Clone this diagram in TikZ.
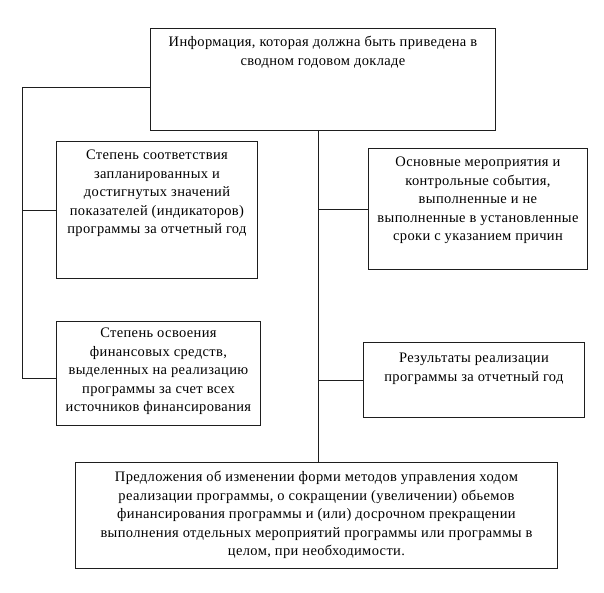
\documentclass[tikz,border=0pt]{standalone}
\usepackage{fontspec}
\setmainfont{Liberation Serif}[LetterSpace=2.5]
\usetikzlibrary{positioning,calc}
\definecolor{RepLine}{HTML}{1E1E1E}
% text block pinned to the top of its frame
\newcommand{\cell}[4][18.5pt]{\parbox[c][#3][t]{#2}{\centering\rule{0pt}{#1}#4\par}}

\begin{document}
\begin{tikzpicture}[x=1pt,y=-1pt]
  \tikzset{infobox/.style={draw=RepLine, line width=0.9pt, inner sep=0pt, anchor=north west, font=\fontsize{14.5}{18.5}\selectfont},
           link/.style={draw=RepLine, line width=0.9pt}}
  \useasboundingbox (0,0) rectangle (604,592);
  \node[infobox] (info) at (150,28) {\cell{345pt}{102pt}{Информация, которая должна быть приведена в\\сводном годовом докладе}};
  \node[infobox] (left1) at (56,141) {\cell{201pt}{137pt}{Степень соответствия\\запланированных и\\достигнутых значений\\показателей (индикаторов)\\программы за отчетный год}};
  \node[infobox] (left2) at (56,321) {\cell[16.5pt]{204pt}{104pt}{Степень освоения\\финансовых средств,\\выделенных на реализацию\\программы за счет всех\\источников финансирования}};
  \node[infobox] (right1) at (368,148) {\cell{219pt}{121pt}{Основные мероприятия и\\контрольные события,\\выполненные и не\\выполненные в установленные\\сроки с указанием причин}};
  \node[infobox] (right2) at (363,342) {\cell[20.5pt]{221pt}{75pt}{Результаты реализации\\программы за отчетный год}};
  \node[infobox] (offer) at (75,462) {\cell[19.5pt]{482pt}{106pt}{Предложения об изменении форми методов управления ходом\\реализации программы, о сокращении (увеличении) обьемов\\финансирования программы и (или) досрочном прекращении\\выполнения отдельных мероприятий программы или программы в\\целом, при необходимости.}};
  \coordinate (bus) at (22,0);
  \coordinate (spine) at (318,0);
  % left side
  \draw[link] ([yshift=-8pt]info.west) -| ([yshift=-5pt]left2.west -| bus) -- ([yshift=-5pt]left2.west);
  \draw[link] (left1.west -| bus) -- (left1.west);
  % right side
  \draw[link] (info.south -| spine) -- (offer.north -| spine);
  \foreach \b in {right1,right2}{\draw[link] (\b.west -| spine) -- (\b.west);}
\end{tikzpicture}
\end{document}
